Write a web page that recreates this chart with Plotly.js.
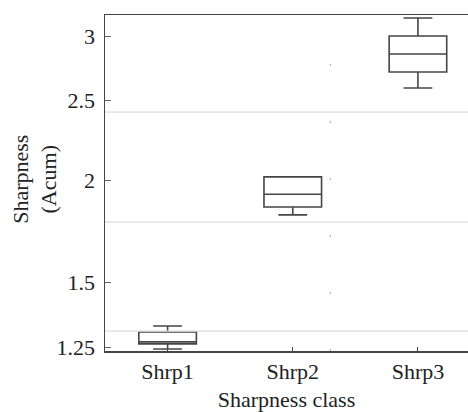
<!DOCTYPE html>
<html>
<head>
<meta charset="utf-8">
<script src="https://cdn.plot.ly/plotly-3.0.1.min.js"></script>
<style>html,body{margin:0;padding:0;background:#fff;}#chart{width:468px;height:412px;}</style>
</head>
<body>
<div id="chart"></div>
<script>
// Data
const categories = ["Shrp1", "Shrp2", "Shrp3"];
const lowerFence = [1.243, 1.813, 2.592];
const q1Values   = [1.261, 1.854, 2.711];
const medians    = [1.268, 1.922, 2.852];
const q3Values   = [1.304, 2.018, 3.000];
const upperFence = [1.326, 2.018, 3.156];
const yTickVals  = [1.25, 1.5, 2, 2.5, 3];
const yTickText  = ["1.25", "1.5", "2", "2.5", "3"];
const classBounds = [1.307, 1.777, 2.422];
const yRange = [1.236, 3.183];

const lineCol = "#454545";
const fam = "Liberation Serif";
const mkFont = () => ({family: fam, size: 22, color: "#222"});

const gridTraces = classBounds.map(v => ({
  type: "scatter", mode: "lines",
  x: [0, 1], y: [v, v], xaxis: "x2", yaxis: "y",
  line: {color: "#dcdcdc", width: 1.2},
  showlegend: false, hoverinfo: "skip"
}));

const boxTrace = {
  type: "box",
  x: categories,
  q1: q1Values,
  median: medians,
  q3: q3Values,
  lowerfence: lowerFence,
  upperfence: upperFence,
  width: 0.46,
  whiskerwidth: 0.5,
  fillcolor: "rgba(0,0,0,0)",
  line: {color: lineCol, width: 1.6},
  boxpoints: false,
  showlegend: false,
  hoverinfo: "skip"
};

const shapes = [{
  type: "line", xref: "x", x0: 1.3, x1: 1.3,
  yref: "paper", y0: 0, y1: 1,
  line: {color: "#b0b0b0", width: 1.2, dash: "2px,55px"}, layer: "below"
}];

const layout = {
  width: 468, height: 412,
  margin: {l: 105, r: 0, t: 15, b: 61, pad: 0},
  paper_bgcolor: "#fff", plot_bgcolor: "#fff",
  font: mkFont(),
  showlegend: false,
  shapes: shapes,
  annotations: [{
    text: "Sharpness<br>(Acum)", textangle: -90,
    xref: "paper", yref: "paper", x: -0.195, y: 0.51,
    xanchor: "center", yanchor: "middle", showarrow: false,
    font: mkFont()
  }],
  xaxis: {
    type: "category",
    range: [-0.5, 2.4],
    showgrid: false, zeroline: false,
    showline: true, mirror: true, linecolor: lineCol, linewidth: 1.5,
    ticks: "inside", ticklen: 4, tickwidth: 1, tickcolor: lineCol,
    ticklabelstandoff: 0,
    tickfont: mkFont(),
    title: {text: "Sharpness class", font: mkFont(), standoff: 10}
  },
  xaxis2: {
    overlaying: "x", range: [0, 1], visible: false, fixedrange: true
  },
  yaxis: {
    type: "log",
    range: [Math.log10(yRange[0]), Math.log10(yRange[1])],
    tickmode: "array", tickvals: yTickVals, ticktext: yTickText,
    showgrid: false, zeroline: false,
    showline: true, linecolor: lineCol, linewidth: 1.5,
    ticks: "inside", ticklen: 6, tickwidth: 1, tickcolor: "#666",
    ticklabelstandoff: 4,
    tickfont: mkFont()
  }
};

Plotly.newPlot("chart", gridTraces.concat([boxTrace]), layout, {staticPlot: true, displayModeBar: false});
</script>
</body>
</html>
